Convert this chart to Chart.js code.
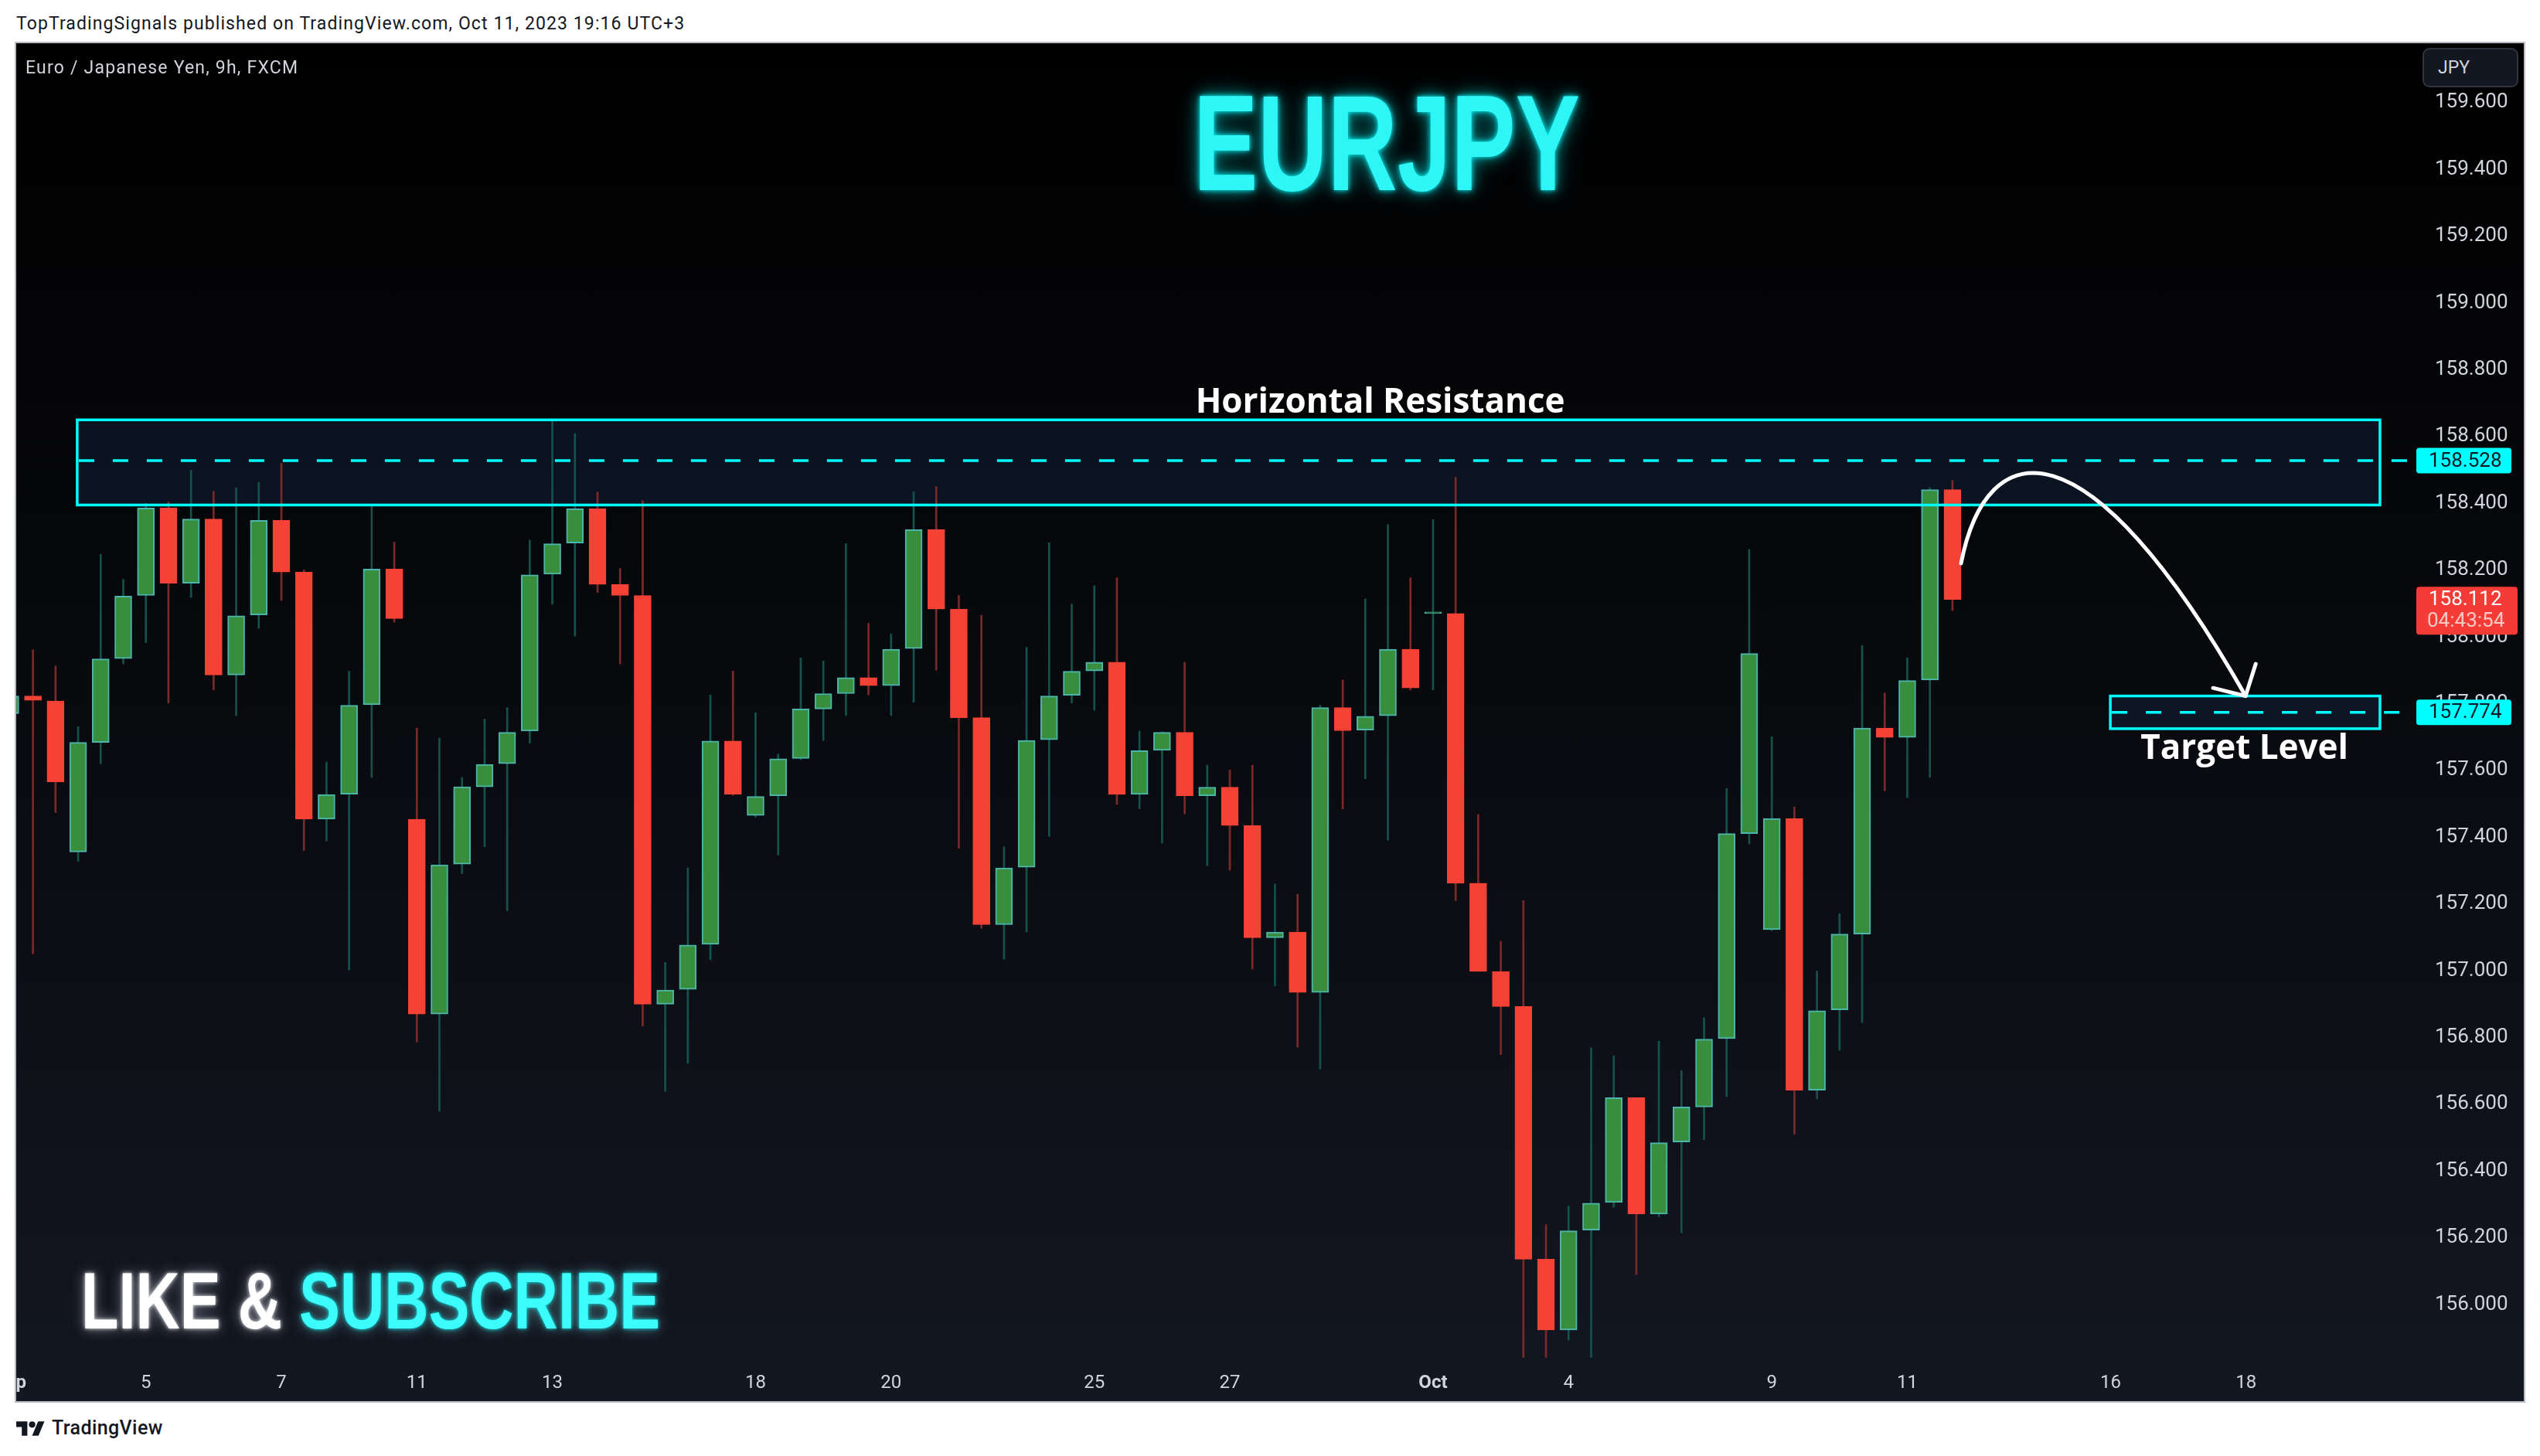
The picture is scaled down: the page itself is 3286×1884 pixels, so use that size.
<!DOCTYPE html>
<html>
<head>
<meta charset="utf-8">
<title>EURJPY 9h</title>
<script src="https://cdn.jsdelivr.net/npm/chart.js@4.4.1/dist/chart.umd.min.js"></script>
<style>
  html, body { margin:0; padding:0; background:#ffffff; }
  body { position:relative; width:3286px; height:1884px; overflow:hidden; font-family: Roboto, "Liberation Sans", sans-serif; }
  #header { position:absolute; left:21px; top:17px; font-size:23px; line-height:28px; letter-spacing:1.1px; color:#131722; white-space:nowrap; }
  #panel { position:absolute; left:19px; top:54px; width:3244px; height:1757px; border:2px solid #b7bac2;
           background:linear-gradient(180deg,#000000 0%,#06070a 35%,#0c0e14 65%,#131722 100%); overflow:hidden; }
  #chart { position:absolute; left:0; top:0; }
  #legend { position:absolute; left:12px; top:18px; font-size:23px; line-height:28px; letter-spacing:1.2px; color:#d1d4dc; white-space:nowrap; }
  #jpy { position:absolute; left:3113px; top:6px; width:120px; height:47px; border:2px solid #2f3440; border-radius:9px; background:#131722;
         color:#d1d4dc; font-size:23px; line-height:47px; text-indent:18px; box-sizing:content-box; }
  #title { position:absolute; left:1773px; top:41px; font-family:"Liberation Sans", Arial, sans-serif; font-weight:bold; font-size:176px; line-height:176px;
           color:#2ef6f6; white-space:nowrap; transform:translateX(-50%) scaleX(0.71); transform-origin:50% 50%;
           text-shadow:0 0 8px rgba(0,255,255,0.95), 0 0 22px rgba(0,255,255,0.55), 0 0 40px rgba(0,255,255,0.3); }
  #like { position:absolute; left:84px; top:1576px; font-family:"Liberation Sans", Arial, sans-serif; font-weight:bold; font-size:103px; line-height:103px;
          white-space:nowrap; transform:scaleX(0.77); transform-origin:0 50%; }
  #like .w { color:#ffffff; text-shadow:0 0 6px rgba(255,255,255,0.9), 0 0 20px rgba(190,195,210,0.6); }
  #like .c { color:#3dfcfc; text-shadow:0 0 6px rgba(0,255,255,0.9), 0 0 20px rgba(120,200,210,0.6); }
  #logo { position:absolute; left:21px; top:1839px; }
  #tv { position:absolute; left:67px; top:1832px; font-size:25px; line-height:32px; font-weight:500; color:#131722; letter-spacing:0.4px; }
</style>
</head>
<body>
<div id="header">TopTradingSignals published on TradingView.com, Oct 11, 2023 19:16 UTC+3</div>
<div id="panel">
  <canvas id="chart" width="3244" height="1757" style="width:3244px;height:1757px"></canvas>
  <div id="legend">Euro / Japanese Yen, 9h, FXCM</div>
  <div id="jpy">JPY</div>
  <div id="title">EURJPY</div>
  <div id="like"><span class="w">LIKE &amp; </span><span class="c">SUBSCRIBE</span></div>
</div>
<svg id="logo" width="37" height="19" viewBox="0 4 36 18"><path d="M14 22H7V11H0V4h14v18zM28 22h-8l7.5-18h8L28 22z" fill="#131722"/><circle cx="20" cy="8" r="4" fill="#131722"/></svg>
<div id="tv">TradingView</div>

<script>
// ---------------- data ----------------
const opens = [157.770,157.823,157.808,157.356,157.684,157.935,158.124,158.386,158.161,158.353,
  157.886,158.066,158.349,158.194,157.454,157.529,157.797,158.203,157.454,156.870,
  157.319,157.551,157.620,157.718,158.188,158.281,158.384,158.157,158.124,156.900,
  156.944,157.079,157.688,157.465,157.524,157.636,157.784,157.830,157.878,157.854,
  157.965,158.321,158.083,157.758,157.138,157.310,157.692,157.825,157.898,157.924,
  157.528,157.660,157.714,157.524,157.550,157.435,157.099,157.116,156.935,157.788,
  157.721,157.764,157.963,158.070,158.070,157.262,156.998,156.893,156.136,155.924,
  156.223,156.306,156.620,156.271,156.487,156.592,156.797,157.411,157.123,157.456,
  156.642,156.883,157.110,157.727,157.699,157.871,158.441];
const highs = [157.840,157.961,157.913,157.731,158.247,158.172,158.400,158.404,158.500,158.436,
  158.447,158.463,158.520,158.201,157.625,157.897,158.395,158.284,157.727,157.697,
  157.579,157.754,157.788,158.290,158.653,158.609,158.434,158.205,158.408,157.025,
  157.308,157.826,157.898,157.773,157.649,157.937,157.928,158.279,158.041,158.009,
  158.434,158.450,158.124,158.065,157.371,157.969,158.282,158.098,158.153,158.177,
  157.718,157.716,157.924,157.616,157.601,157.616,157.260,157.229,157.795,157.871,
  158.114,158.336,158.177,158.351,158.478,157.468,157.088,157.210,156.239,156.295,
  156.769,156.745,156.620,156.789,156.701,156.859,157.546,158.262,157.701,157.491,
  156.999,157.171,157.974,157.832,157.937,158.447,158.469];
const lows = [157.750,157.051,157.474,157.328,157.620,157.919,157.983,157.802,158.118,157.841,
  157.764,158.026,158.109,157.360,157.389,157.002,157.579,158.044,156.787,156.579,
  157.291,157.371,157.180,157.682,158.098,158.002,158.133,157.919,156.834,156.638,
  156.723,157.033,157.525,157.460,157.347,157.632,157.690,157.764,157.826,157.764,
  157.804,157.900,157.367,157.127,157.035,157.116,157.402,157.802,157.780,157.498,
  157.485,157.382,157.470,157.315,157.301,157.005,156.955,156.771,156.706,157.485,
  157.575,157.391,157.841,157.841,157.210,156.998,156.749,155.842,155.842,155.894,
  155.842,156.291,156.090,156.263,156.215,156.494,156.623,157.380,157.120,156.511,
  156.616,156.762,156.845,157.539,157.518,157.579,158.079];
const closes = [157.823,157.810,157.566,157.684,157.934,158.122,158.386,158.161,158.353,157.886,
  158.063,158.349,158.194,157.454,157.528,157.795,158.203,158.055,156.870,157.317,
  157.551,157.618,157.714,158.186,158.279,158.384,158.157,158.124,156.900,156.942,
  157.077,157.688,157.529,157.522,157.635,157.784,157.830,157.878,157.854,157.963,
  158.321,158.083,157.758,157.138,157.308,157.690,157.823,157.897,157.924,157.528,
  157.659,157.714,157.524,157.550,157.435,157.099,157.116,156.935,157.788,157.719,
  157.762,157.963,157.847,158.070,157.262,156.998,156.893,156.136,155.924,156.221,
  156.304,156.620,156.271,156.485,156.592,156.795,157.411,157.950,157.456,156.642,
  156.880,157.110,157.727,157.699,157.869,158.441,158.112];

// time axis: bar index of each date label, and its text
const tickIndex = [0, 6, 12, 18, 24, 33, 39, 48, 54, 63, 69, 78, 84, 93, 99];
const tickText  = ['Sep','5','7','11','13','18','20','25','27','Oct','4','9','11','16','18'];
const monthLabels = ['Sep','Oct'];

// price axis tick labels
const priceTicks = [156.0,156.2,156.4,156.6,156.8,157.0,157.2,157.4,157.6,157.8,158.0,158.2,158.4,158.6,158.8,159.0,159.2,159.4,159.6];

// visible ranges
const X_MIN = 0.26, X_MAX = 106.37;
const Y_MIN = 155.822, Y_MAX = 159.778;

// drawings (bar index / price)
const resistanceZone = { from: 2.96, to: 104.93, low: 158.395, high: 158.650, level: 158.528 };
const targetZone     = { from: 92.99, to: 104.93, low: 157.725, high: 157.823, level: 157.774 };
const arrowCurve = [[86.38,158.220],[87.51,158.611],[91.96,158.658],[98.98,157.823]];
const arrowHead  = [[99.43,157.919],[98.98,157.823],[97.54,157.847]];
const resistanceText = { x: 60.66, y: 158.700, text: 'Horizontal Resistance' };
const targetText     = { x: 98.93, y: 157.663, text: 'Target Level' };
const lastPrice = 158.112;
const countdown = '04:43:54';

// ---------------- styling ----------------
const CYAN = '#00ffff';
const UP_BODY = '#388e3c', UP_BORDER = '#4db6ac', UP_WICK = '#14524c';
const DN_BODY = '#f44336', DN_BORDER = '#f44336', DN_WICK = '#7c2929';
const isUp = i => closes[i] >= opens[i];
const labelFor = v => { const k = tickIndex.indexOf(Math.round(v)); return k >= 0 ? tickText[k] : ''; };
const candleIndex = opens.map((_, i) => i);

const annot = {
  id: 'annot',
  beforeDatasetsDraw(chart) {
    const { ctx, scales: { x, y } } = chart;
    ctx.save();
    ctx.fillStyle = 'rgba(24,46,82,0.34)';
    [resistanceZone, targetZone].forEach(z => {
      const x0 = x.getPixelForValue(z.from), x1 = x.getPixelForValue(z.to);
      const y0 = y.getPixelForValue(z.high), y1 = y.getPixelForValue(z.low);
      ctx.fillRect(x0, y0, x1 - x0, y1 - y0);
    });
    ctx.restore();
  },
  afterDatasetsDraw(chart) {
    const { ctx, chartArea, scales: { x, y } } = chart;
    ctx.save();
    ctx.strokeStyle = CYAN;
    ctx.lineWidth = 3.5;
    [resistanceZone, targetZone].forEach(z => {
      const x0 = x.getPixelForValue(z.from), x1 = x.getPixelForValue(z.to);
      const y0 = y.getPixelForValue(z.high), y1 = y.getPixelForValue(z.low);
      ctx.setLineDash([]);
      ctx.strokeRect(x0, y0, x1 - x0, y1 - y0);
      const yl = y.getPixelForValue(z.level);
      ctx.setLineDash([20, 24]);
      ctx.beginPath();
      ctx.moveTo(x0 + 2, yl);
      ctx.lineTo(chartArea.right, yl);
      ctx.stroke();
    });
    ctx.setLineDash([]);
    // arrow
    const P = arrowCurve.map(p => [x.getPixelForValue(p[0]), y.getPixelForValue(p[1])]);
    ctx.strokeStyle = '#ffffff';
    ctx.lineWidth = 5;
    ctx.lineCap = 'round';
    ctx.lineJoin = 'round';
    ctx.beginPath();
    ctx.moveTo(P[0][0], P[0][1]);
    ctx.bezierCurveTo(P[1][0], P[1][1], P[2][0], P[2][1], P[3][0], P[3][1]);
    ctx.stroke();
    const H = arrowHead.map(p => [x.getPixelForValue(p[0]), y.getPixelForValue(p[1])]);
    ctx.beginPath();
    ctx.moveTo(H[0][0], H[0][1]);
    ctx.lineTo(H[1][0], H[1][1]);
    ctx.lineTo(H[2][0], H[2][1]);
    ctx.stroke();
    // texts
    ctx.fillStyle = '#ffffff';
    ctx.font = 'bold 44px "Open Sans", sans-serif';
    ctx.textAlign = 'center';
    ctx.textBaseline = 'middle';
    [resistanceText, targetText].forEach(t => {
      ctx.fillText(t.text, x.getPixelForValue(t.x), y.getPixelForValue(t.y));
    });
    ctx.restore();
  },
  afterDraw(chart) {
    const { ctx, chartArea, scales: { y } } = chart;
    ctx.save();
    ctx.font = '26px Roboto, sans-serif';
    ctx.textAlign = 'left';
    ctx.textBaseline = 'middle';
    const left = chartArea.right + 5;
    const textX = chartArea.right + 21;
    [resistanceZone.level, targetZone.level].forEach(v => {
      const py = y.getPixelForValue(v);
      ctx.fillStyle = CYAN;
      ctx.beginPath();
      ctx.roundRect(left, py - 16.5, 123, 33, 4);
      ctx.fill();
      ctx.fillStyle = '#131722';
      ctx.fillText(v.toFixed(3), textX, py + 1);
    });
    const py = y.getPixelForValue(lastPrice);
    ctx.fillStyle = '#f23c35';
    ctx.beginPath();
    ctx.roundRect(left, py - 16.5, 131, 62, 4);
    ctx.fill();
    ctx.fillStyle = '#ffffff';
    ctx.fillText(lastPrice.toFixed(3), textX, py + 1);
    ctx.fillStyle = 'rgba(255,255,255,0.72)';
    ctx.fillText(countdown, textX - 2, py + 29);
    ctx.restore();
  }
};

new Chart(document.getElementById('chart'), {
  type: 'bar',
  data: {
    datasets: [
      {
        label: 'wick',
        data: candleIndex.map(i => ({ x: i, y: [lows[i], highs[i]] })),
        backgroundColor: c => isUp(c.dataIndex) ? UP_WICK : DN_WICK,
        borderWidth: 0,
        grouped: false,
        barPercentage: 1, categoryPercentage: 1,
        maxBarThickness: 2,
        order: 2
      },
      {
        label: 'body',
        data: candleIndex.map(i => ({ x: i, y: [opens[i], closes[i]] })),
        backgroundColor: c => isUp(c.dataIndex) ? UP_BODY : DN_BODY,
        borderColor: c => isUp(c.dataIndex) ? UP_BORDER : DN_BORDER,
        borderWidth: 2,
        borderSkipped: false,
        minBarLength: 2,
        grouped: false,
        barPercentage: 1, categoryPercentage: 1,
        maxBarThickness: 22,
        order: 1
      }
    ]
  },
  options: {
    responsive: false,
    animation: false,
    devicePixelRatio: 1,
    events: [],
    layout: { padding: 0 },
    plugins: { legend: { display: false }, tooltip: { enabled: false } },
    scales: {
      x: {
        type: 'linear', min: X_MIN, max: X_MAX, offset: false,
        grid: { display: false, offset: false }, border: { display: false },
        afterBuildTicks: s => { s.ticks = tickIndex.map(v => ({ value: v })); },
        afterFit: s => { s.height = 48; s.paddingLeft = 0; s.paddingRight = 0; },
        ticks: {
          autoSkip: false, maxRotation: 0, minRotation: 0, padding: 3, color: '#d1d4dc',
          font: c => ({ family: 'Roboto', size: 24, weight: (c.tick && monthLabels.includes(labelFor(c.tick.value))) ? 'bold' : 'normal' }),
          callback: v => labelFor(v)
        }
      },
      y: {
        type: 'linear', position: 'right', min: Y_MIN, max: Y_MAX, beginAtZero: false,
        grid: { display: false }, border: { display: false },
        afterBuildTicks: s => { s.ticks = priceTicks.map(v => ({ value: v })); },
        afterFit: s => { s.width = 144; s.paddingTop = 0; s.paddingBottom = 0; },
        ticks: { padding: 21, color: '#d1d4dc', font: { family: 'Roboto', size: 26 }, callback: v => Number(v).toFixed(3) }
      }
    }
  },
  plugins: [annot]
});
</script>
</body>
</html>
